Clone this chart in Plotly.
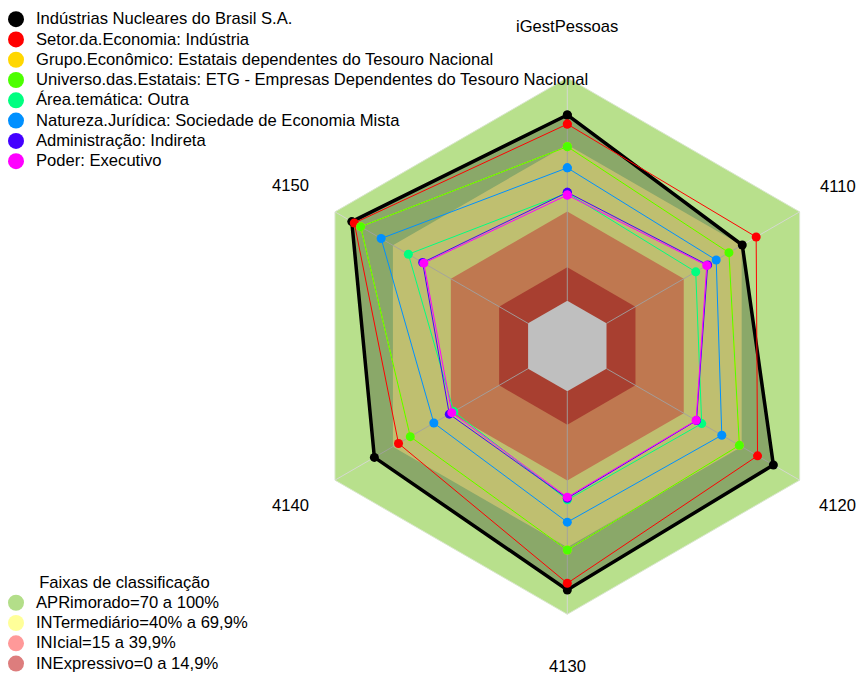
import math
import plotly.graph_objects as go

categories = ["iGestPessoas", "4110", "4120", "4130", "4140", "4150"]

series_names = [
    "Indústrias Nucleares do Brasil S.A.",
    "Setor.da.Economia: Indústria",
    "Grupo.Econômico: Estatais dependentes do Tesouro Nacional",
    "Universo.das.Estatais: ETG - Empresas Dependentes do Tesouro Nacional",
    "Área.temática: Outra",
    "Natureza.Jurídica: Sociedade de Economia Mista",
    "Administração: Indireta",
    "Poder: Executivo",
]
series_colors = ["#000000", "#FF0000", "#FFD700", "#4CFF00", "#00FF80", "#0090FF", "#4400FF", "#FF00FF"]

v_inb = [83.3, 70.3, 86.4, 89.1, 79.6, 91.3]
v_setor = [79.2, 77.5, 78.2, 86.1, 67.1, 90.0]
v_grupo = [69.1, 63.4, 68.8, 71.2, 61.0, 86.7]
v_universo = [69.1, 63.4, 68.8, 71.2, 61.0, 86.7]
v_area = [48.3, 46.2, 49.3, 48.7, 38.5, 62.0]
v_natureza = [59.6, 56.8, 59.7, 58.7, 48.8, 76.1]
v_admin = [48.6, 52.4, 46.6, 48.0, 40.8, 54.6]
v_poder = [47.4, 51.9, 46.4, 47.5, 39.5, 54.0]
series_values = [v_inb, v_setor, v_grupo, v_universo, v_area, v_natureza, v_admin, v_poder]

band_names = ["APRimorado=70 a 100%", "INTermediário=40% a 69,9%", "INIcial=15 a 39,9%", "INExpressivo=0 a 14,9%"]
band_upper = [100, 70, 40, 15, 0]
band_fill = ["#B8E08C", "#FFFF96", "#FFA06B", "#E05540", "#FFFFFF"]
band_legend_colors = ["#B3DE89", "#FFFF99", "#FF9999", "#DD7D7D"]
legend2_title = "Faixas de classificação"

FONT = "Liberation Sans, Arial, sans-serif"
TXT = 16.6


def big(s):
    return '<span style="font-size:%spx">%s</span>' % (TXT, s)


W, H = 867, 680
cx, cy, R = 559.3, 338.0, 304.0   # polar centre / radius (px, figure coords)
SCALE, RMIN = 2.23, -20.3          # px per unit, value at centre
RMAX = RMIN + R / SCALE
LABEL_R = 320.0                    # distance of category labels from centre (px)
LABEL_HALF_W = 18.5                # approx half width of a 4-digit label
RIGHT_LIMIT = 850.0                # keep labels inside the visible page

theta_closed = categories + [categories[0]]

fig = go.Figure()

# background bands
for i, up in enumerate(band_upper):
    fig.add_trace(go.Scatterpolar(
        r=[up] * (len(categories) + 1), theta=theta_closed,
        mode="lines", fill="toself", fillcolor=band_fill[i],
        line=dict(width=1 if i == 0 else 0, color="#D8E6CC" if i == 0 else band_fill[i]),
        hoverinfo="skip", showlegend=False))

# spokes
sr, st = [], []
for c in categories:
    sr += [0, 100, None]
    st += [c, c, None]
fig.add_trace(go.Scatterpolar(r=sr, theta=st, mode="lines",
                              line=dict(color="rgba(215,215,215,0.9)", width=1),
                              hoverinfo="skip", showlegend=False))

# data series
for i, (name, vals) in enumerate(zip(series_names, series_values)):
    is_main = i == 0
    fig.add_trace(go.Scatterpolar(
        r=vals + [vals[0]], theta=theta_closed,
        mode="lines+markers",
        fill="toself" if is_main else None,
        fillcolor="rgba(0,0,0,0.25)" if is_main else None,
        line=dict(color=series_colors[i], width=3.5 if is_main else 1),
        marker=dict(color=series_colors[i], size=9),
        name=name, showlegend=False))

# legend entries (series)
for i, name in enumerate(series_names):
    fig.add_trace(go.Scatterpolar(r=[None], theta=[categories[0]], mode="markers",
                                  marker=dict(color=series_colors[i], size=16),
                                  name=big(name), legend="legend"))
# legend entries (bands)
for i, name in enumerate(band_names):
    fig.add_trace(go.Scatterpolar(r=[None], theta=[categories[0]], mode="markers",
                                  marker=dict(color=band_legend_colors[i], size=16),
                                  name=big(name), legend="legend2"))

# category labels placed along each spoke direction
annotations = []
n = len(categories)
for i, c in enumerate(categories):
    ang = math.radians(90 - 360.0 * i / n)
    px = cx + LABEL_R * math.cos(ang)
    py = cy - LABEL_R * math.sin(ang)
    ann = dict(text=c, y=1 - py / H, xref="paper", yref="paper",
               yanchor="middle", showarrow=False,
               font=dict(size=TXT, family=FONT, color="#000000"))
    if px + LABEL_HALF_W > RIGHT_LIMIT:
        ann.update(x=RIGHT_LIMIT / W, xanchor="right")
    else:
        ann.update(x=px / W, xanchor="center")
    annotations.append(ann)

fig.update_layout(
    width=W, height=H,
    margin=dict(l=0, r=0, t=0, b=0, autoexpand=False),
    paper_bgcolor="white",
    font=dict(family=FONT, size=15, color="#000000"),
    annotations=annotations,
    polar=dict(
        domain=dict(x=[(cx - R) / W, (cx + R) / W], y=[1 - (cy + R) / H, 1 - (cy - R) / H]),
        bgcolor="white",
        gridshape="linear",
        radialaxis=dict(visible=False, range=[RMIN, RMAX]),
        angularaxis=dict(direction="clockwise", rotation=90, showgrid=False, showline=False,
                         ticks="", showticklabels=False),
    ),
    legend=dict(x=-12 / W, y=1 + 4 / H, xanchor="left", yanchor="top", bgcolor="rgba(0,0,0,0)",
                font=dict(size=13.3, family=FONT), itemclick=False),
    legend2=dict(x=-12 / W, y=9 / H, xanchor="left", yanchor="bottom", bgcolor="rgba(0,0,0,0)",
                 font=dict(size=13.3, family=FONT),
                 title=dict(text=legend2_title, side="top center",
                            font=dict(size=TXT, family=FONT))),
)

fig.write_html("out.html")
